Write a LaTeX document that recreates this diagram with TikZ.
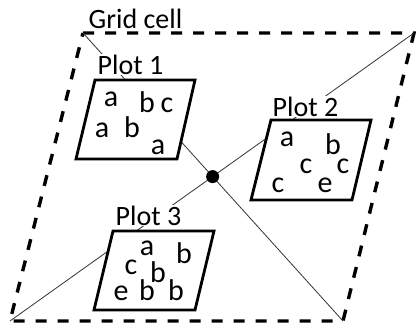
\documentclass[tikz,border=0pt]{standalone}
\usepackage{fontspec}
\setmainfont{Carlito}
\usetikzlibrary{calc}
\begin{document}
\begin{tikzpicture}[x=1pt,y=-1pt,
  gridline/.style={line width=3.4pt,dash pattern=on 11pt off 11pt},
  diag/.style={line width=0.8pt,draw=black!80},
  plotbox/.style={line width=2.8pt,fill=white,line join=miter},
  lbl/.style={font=\fontsize{28}{30}\selectfont,anchor=base,inner sep=0.5pt},
  plotlbl/.style={lbl,fill=white},
  ltr/.style={font=\fontsize{30}{32}\selectfont,anchor=base,inner sep=0pt},
  dotnode/.style={circle,fill=black,inner sep=0pt,minimum size=13pt}]
\useasboundingbox (0,0) rectangle (416,327);
% grid cell corners
\coordinate (G1) at (83,33);
\coordinate (G2) at (414,33);
\coordinate (G3) at (343,321);
\coordinate (G4) at (10,321);
\draw[gridline] (G1) -- (G2) -- (G3) -- (G4) -- cycle;
% diagonals
\draw[diag] (G1) -- (G3);
\draw[diag] (G4) -- (G2);
% plots
\draw[plotbox] (95,80) -- (195,80) -- (177,159) -- (76,159) -- cycle;
\draw[plotbox] (271,120) -- (371,120) -- (352,200) -- (251,200) -- cycle;
\draw[plotbox] (113,231) -- (214,231) -- (195,310) -- (94,310) -- cycle;
% labels
\node[lbl] (gridlbl) at (135.5,28) {Grid cell};
\node[plotlbl] (p1lbl) at (130.5,74) {Plot 1};
\node[plotlbl] (p2lbl) at (305.5,116) {Plot 2};
\node[plotlbl] (p3lbl) at (148.5,225) {Plot 3};
% plot 1 letters
\node[ltr] (a11) at (111,106) {a};
\node[ltr] (b11) at (147,112) {b};
\node[ltr] (c11) at (167,112) {c};
\node[ltr] (a12) at (102,137) {a};
\node[ltr] (b12) at (132,137) {b};
\node[ltr] (a13) at (158,154) {a};
% plot 2 letters
\node[ltr] (a21) at (287,146) {a};
\node[ltr] (b21) at (333,154) {b};
\node[ltr] (c21) at (306,173) {c};
\node[ltr] (c22) at (343,173) {c};
\node[ltr] (c23) at (278,192) {c};
\node[ltr] (e21) at (325,192) {e};
% plot 3 letters
\node[ltr] (a31) at (147,255) {a};
\node[ltr] (b31) at (184,263) {b};
\node[ltr] (c31) at (131,274) {c};
\node[ltr] (b32) at (158,282) {b};
\node[ltr] (e31) at (121,300) {e};
\node[ltr] (b33) at (147,300) {b};
\node[ltr] (b34) at (176,300) {b};
% centre dot
\node[dotnode] (centre) at (intersection of G1--G3 and G4--G2) {};
\end{tikzpicture}
\end{document}
